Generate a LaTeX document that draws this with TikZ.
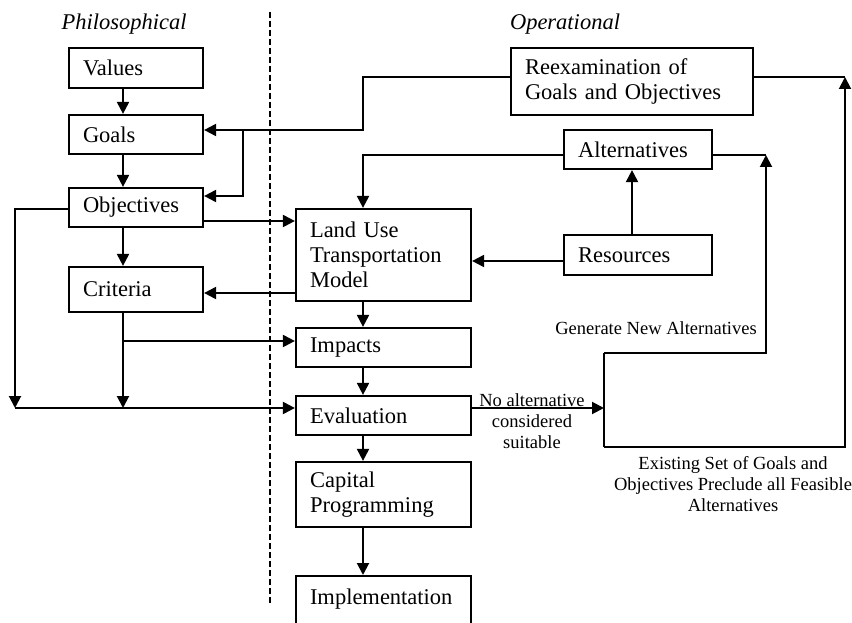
\documentclass[tikz,border=0pt]{standalone}
\usepackage{fontspec}
\setmainfont{Liberation Serif}
\usetikzlibrary{arrows.meta}
\begin{document}
\begin{tikzpicture}[x=1pt,y=-1pt,
  box/.style={draw, line width=2.2pt, inner xsep=14pt, inner ysep=4pt, align=left, font=\fontsize{22.5}{25}\selectfont},
  arr/.style={line width=2pt, -{Triangle[length=12pt,width=12pt]}},
  ln/.style={line width=2pt},
  lbl/.style={font=\fontsize{18.5}{21}\selectfont, align=center, inner sep=0pt},
  head/.style={font=\fontsize{22.5}{25}\selectfont\itshape, inner sep=0pt}]
\useasboundingbox (0,0) rectangle (852,623);
\clip (0,0) rectangle (852,623);
% headings
\node[head] (phil) at (124,24) {Philosophical};
\node[head] (oper) at (565,24) {Operational};
\draw[line width=1.6pt, dash pattern=on 6pt off 3pt] (270,12) -- (270,605);
% left column
\node[box, minimum width=134pt, text width=106pt, minimum height=40pt] (values) at (136,68) {Values};
\node[box, minimum width=134pt, text width=106pt, minimum height=39pt] (goals) at (136,134.5) {Goals};
\node[box, minimum width=134pt, text width=106pt, minimum height=39pt] (objectives) at (136,207.5) {Objectives};
\node[box, minimum width=134pt, text width=106pt, minimum height=45pt] (criteria) at (136,289.5) {Criteria};
% right side boxes
\node[box, minimum width=242pt, text width=214pt, minimum height=67pt] (reexam) at (632,81.5) {Reexamination of\\Goals and Objectives};
\node[box, minimum width=148pt, text width=120pt, minimum height=39pt] (alternatives) at (638,149.5) {Alternatives};
\node[box, minimum width=148pt, text width=120pt, minimum height=40pt] (resources) at (638,255) {Resources};
% centre column
\node[box, minimum width=175pt, text width=147pt, minimum height=92pt] (lutm) at (383.5,255) {Land Use\\Transportation\\Model};
\node[box, minimum width=175pt, text width=147pt, minimum height=39pt] (impacts) at (383.5,347.5) {Impacts};
\node[box, minimum width=175pt, text width=147pt, minimum height=39pt] (evaluation) at (383.5,415.5) {Evaluation};
\node[box, minimum width=175pt, text width=147pt, minimum height=65pt] (capital) at (383.5,494.5) {Capital\\Programming};
\node[box, minimum width=175pt, text width=147pt, inner ysep=6pt, text height=22pt, text depth=40pt, anchor=north] (implementation) at (383.5,575) {Implementation};
% vertical chain left
\draw[arr] (values.south -| 123,0) -- (goals.north -| 123,0);
\draw[arr] (goals.south -| 123,0) -- (objectives.north -| 123,0);
\draw[arr] (objectives.south -| 123,0) -- (criteria.north -| 123,0);
% reexamination feedback
\draw[arr] (reexam.west |- 0,77) -- (363,77) -- (363,130) -- (goals.east |- 0,130);
\draw[arr] (243,130) -- (243,196) -- (objectives.east |- 0,196);
% objectives / criteria with model
\draw[arr] (objectives.east |- 0,221) -- (lutm.west |- 0,221);
\draw[arr] (lutm.west |- 0,293) -- (criteria.east |- 0,293);
% alternatives and resources
\draw[arr] (alternatives.west |- 0,155) -- (363,155) -- (lutm.north -| 363,0);
\draw[arr] (resources.north -| 632,0) -- (alternatives.south -| 632,0);
\draw[arr] (resources.west |- 0,261) -- (lutm.east |- 0,261);
% left feeds to evaluation
\draw[arr] (objectives.west |- 0,209) -- (15,209) -- (15,408);
\draw[arr] (criteria.south -| 123,0) -- (123,408);
\draw[arr] (123,341) -- (impacts.west |- 0,341);
\draw[arr] (15,408) -- (evaluation.west |- 0,408);
% centre chain
\draw[arr] (lutm.south -| 363,0) -- (impacts.north -| 363,0);
\draw[arr] (impacts.south -| 363,0) -- (evaluation.north -| 363,0);
\draw[arr] (evaluation.south -| 363,0) -- (capital.north -| 363,0);
\draw[arr] (capital.south -| 363,0) -- (implementation.north -| 363,0);
% loop
\coordinate (loopin) at (604,408);
\draw[arr] (evaluation.east |- 0,408) -- (loopin);
\draw[ln] (604,353) -- (604,447);
\draw[arr] (604,353) -- (766,353) -- (766,155);
\draw[arr] (604,447) -- (845,447) -- (845,77);
\draw[ln] (alternatives.east |- 0,155) -- (766,155);
\draw[ln] (reexam.east |- 0,77) -- (845,77);
% labels
\node[lbl] (gen) at (656,328) {Generate New Alternatives};
\node[lbl] (noalt) at (532,421) {No alternative\\considered\\suitable};
\node[lbl] (exist) at (733,484) {Existing Set of Goals and\\Objectives Preclude all Feasible\\Alternatives};
\end{tikzpicture}
\end{document}
